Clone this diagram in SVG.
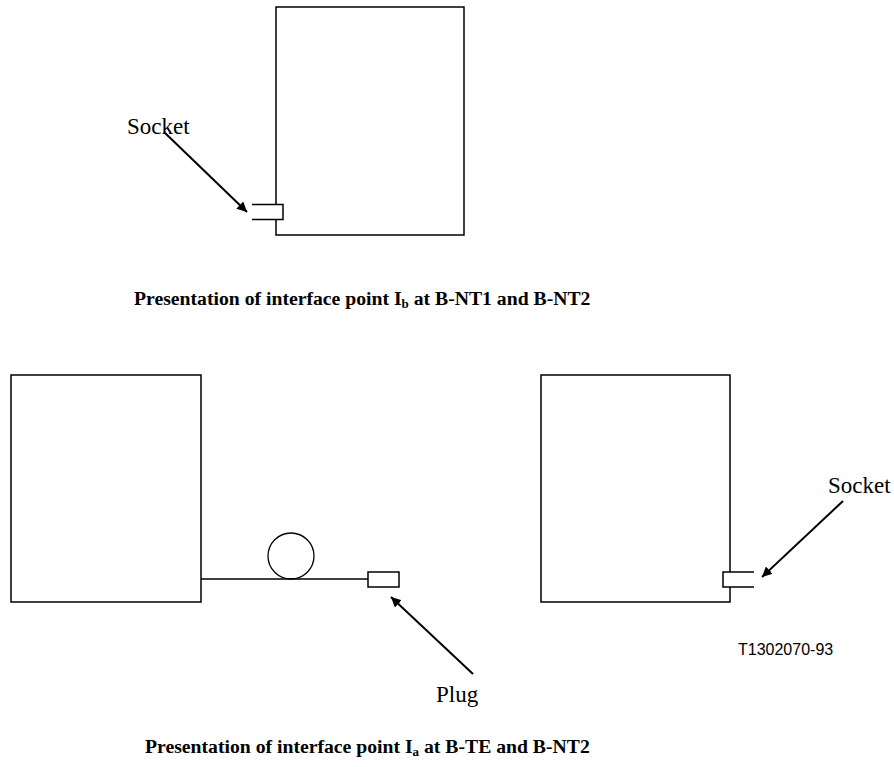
<svg xmlns="http://www.w3.org/2000/svg" width="894" height="767" viewBox="0 0 894 767">
<style>
.box{fill:none;stroke:#000;stroke-width:1.5}
.ln{fill:none;stroke:#000;stroke-width:1.3}
.arr{fill:none;stroke:#000;stroke-width:2}
.lbl{font-family:"Liberation Serif","Times New Roman",serif;font-size:23px;fill:#000}
.ttl{font-family:"Liberation Serif","Times New Roman",serif;font-size:19.7px;font-weight:bold;fill:#000}
.code{font-family:"Liberation Sans",Arial,sans-serif;font-size:16px;fill:#000}
</style>
<defs>
<marker id="ah" markerWidth="10" markerHeight="10" viewBox="0 0 10 10" refX="10" refY="5" orient="auto" markerUnits="userSpaceOnUse">
<path d="M0,0 L10,5 L0,10 Z" fill="#000"/>
</marker>
</defs>
<rect width="894" height="767" fill="#fff"/>
<g id="nt-top">
<path class="box" d="M276,204.5 V7 H464 V235 H276 V219.5"/>
<path class="box" d="M252,204.5 H283 V219.5 H252"/>
</g>
<g id="te-left">
<rect class="box" x="11" y="375" width="190" height="227"/>
</g>
<g id="cable">
<line class="ln" x1="201" y1="579" x2="368" y2="579"/>
<circle class="ln" cx="291" cy="556" r="23"/>
</g>
<g id="plug">
<rect class="box" x="368" y="572" width="31" height="15"/>
</g>
<g id="nt-right">
<path class="box" d="M730,572 V375 H541 V602 H730 V587"/>
<path class="box" d="M754,572 H723 V587 H754"/>
</g>
<g id="connectors">
<line class="arr" x1="164" y1="132" x2="247" y2="212" marker-end="url(#ah)"/>
<line class="arr" x1="473" y1="674" x2="391" y2="597" marker-end="url(#ah)"/>
<line class="arr" x1="843" y1="501" x2="762" y2="577" marker-end="url(#ah)"/>
</g>
<g id="labels">
<text class="lbl" x="127" y="134">Socket</text>
<text class="lbl" x="828" y="493">Socket</text>
<text class="lbl" x="436" y="702">Plug</text>
<text class="code" x="738" y="655">T1302070-93</text>
<text class="ttl" x="134" y="305">Presentation of interface point I<tspan font-size="13" dy="3">b</tspan><tspan dy="-3"> at B-NT1 and B-NT2</tspan></text>
<text class="ttl" x="145" y="753">Presentation of interface point I<tspan font-size="13" dy="3">a</tspan><tspan dy="-3"> at B-TE and B-NT2</tspan></text>
</g>
</svg>
